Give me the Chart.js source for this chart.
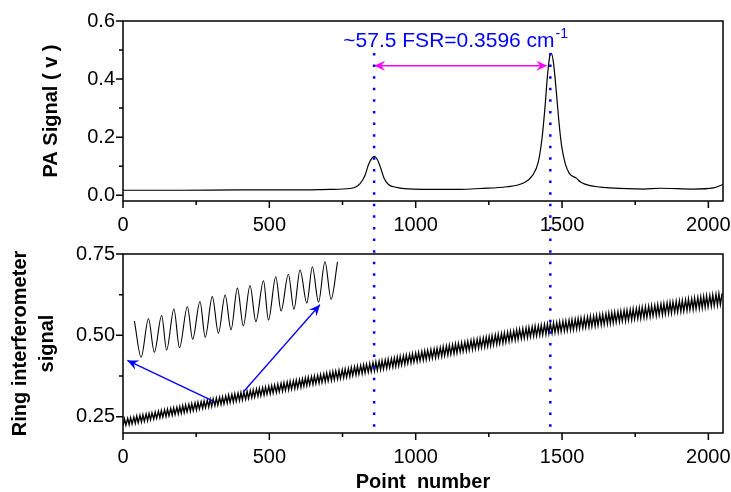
<!DOCTYPE html>
<html>
<head>
<meta charset="utf-8">
<script src="https://cdn.jsdelivr.net/npm/chart.js@4.4.1/dist/chart.umd.min.js"></script>
<style>
  html, body { margin: 0; padding: 0; background: #fff; }
  #wrap { position: relative; width: 731px; height: 492px; }
  #wrap canvas { position: absolute; left: 0; top: 0; }
</style>
</head>
<body>
<div id="wrap">
  <canvas id="paChart" width="731" height="492"></canvas>
  <canvas id="ringChart" width="731" height="492"></canvas>
</div>
<script>
// ---- PA signal (top panel) ----
const paX = [0, 200, 400, 600, 707, 776, 810, 827, 838, 850, 859, 869, 881, 892, 907, 935, 992, 1152,
  1220, 1311, 1368, 1400, 1419, 1431, 1442, 1451, 1459, 1464, 1471, 1480, 1490, 1499, 1511, 1525,
  1550, 1562, 1579, 1596, 1619, 1664, 1778, 1835, 1949, 2017, 2050];
const paY = [0.017, 0.017, 0.018, 0.018, 0.020, 0.023, 0.040, 0.069, 0.103, 0.127, 0.134, 0.123, 0.092, 0.058, 0.037, 0.027, 0.021, 0.020,
  0.023, 0.029, 0.042, 0.069, 0.115, 0.190, 0.305, 0.420, 0.483, 0.489, 0.454, 0.362, 0.247, 0.167, 0.109, 0.075,
  0.058, 0.046, 0.038, 0.033, 0.029, 0.025, 0.021, 0.024, 0.021, 0.025, 0.037];

// ---- ring interferometer trace (bottom panel): fringe valleys / peaks ----
const ringX = [
  0, 5, 10, 16, 21, 26, 31, 37, 42, 47, 52, 58, 63, 68, 73, 79, 84, 89, 94, 99,
  105, 110, 115, 121, 126, 131, 136, 142, 147, 152, 157, 163, 168, 173, 178, 184, 189, 194, 199, 204,
  209, 214, 219, 225, 230, 235, 240, 246, 251, 256, 261, 267, 272, 277, 282, 288, 293, 298, 303, 308,
  314, 319, 324, 330, 335, 340, 345, 351, 356, 361, 366, 372, 377, 382, 387, 393, 398, 403, 408, 413,
  419, 424, 429, 435, 440, 445, 450, 456, 461, 466, 471, 477, 482, 487, 492, 498, 503, 508, 513, 518,
  524, 529, 534, 540, 545, 550, 555, 561, 566, 571, 576, 582, 587, 592, 597, 603, 608, 613, 618, 623,
  628, 633, 638, 644, 649, 654, 659, 665, 670, 675, 680, 686, 691, 696, 701, 707, 712, 717, 722, 727,
  733, 738, 743, 749, 754, 759, 764, 770, 775, 780, 785, 791, 796, 801, 806, 812, 817, 822, 827, 832,
  838, 843, 848, 854, 859, 864, 869, 875, 880, 885, 890, 896, 901, 906, 911, 917, 922, 927, 932, 937,
  942, 947, 952, 958, 963, 968, 973, 979, 984, 989, 994, 1000, 1005, 1010, 1015, 1021, 1026, 1031, 1036, 1041,
  1047, 1052, 1057, 1063, 1068, 1073, 1078, 1084, 1089, 1094, 1099, 1105, 1110, 1115, 1120, 1126, 1131, 1136, 1141, 1146,
  1152, 1157, 1162, 1168, 1173, 1178, 1183, 1189, 1194, 1199, 1204, 1210, 1215, 1220, 1225, 1231, 1236, 1241, 1246, 1251,
  1256, 1261, 1266, 1272, 1277, 1282, 1287, 1293, 1298, 1303, 1308, 1314, 1319, 1324, 1329, 1335, 1340, 1345, 1350, 1355,
  1361, 1366, 1371, 1377, 1382, 1387, 1392, 1398, 1403, 1408, 1413, 1419, 1424, 1429, 1434, 1440, 1445, 1450, 1455, 1460,
  1466, 1471, 1476, 1482, 1487, 1492, 1497, 1503, 1508, 1513, 1518, 1524, 1529, 1534, 1539, 1545, 1550, 1555, 1560, 1565,
  1571, 1576, 1581, 1587, 1592, 1597, 1602, 1608, 1613, 1618, 1623, 1629, 1634, 1639, 1644, 1650, 1655, 1660, 1665, 1670,
  1675, 1680, 1685, 1691, 1696, 1701, 1706, 1712, 1717, 1722, 1727, 1733, 1738, 1743, 1748, 1754, 1759, 1764, 1769, 1774,
  1780, 1785, 1790, 1796, 1801, 1806, 1811, 1817, 1822, 1827, 1832, 1838, 1843, 1848, 1853, 1859, 1864, 1869, 1874, 1879,
  1885, 1890, 1895, 1901, 1906, 1911, 1916, 1922, 1927, 1932, 1937, 1943, 1948, 1953, 1958, 1964, 1969, 1974, 1979, 1984,
  1989, 1994, 1999, 2005, 2010, 2015, 2020, 2026, 2031, 2036, 2041, 2047];
const ringY = [
  .222, .243, .224, .245, .226, .247, .228, .249, .230, .252, .232, .254, .234, .256, .236, .258, .238, .260, .241, .262,
  .243, .264, .245, .267, .247, .269, .249, .271, .251, .273, .253, .275, .255, .277, .257, .279, .259, .281, .261, .284,
  .263, .286, .265, .288, .267, .290, .269, .292, .271, .294, .274, .296, .276, .298, .278, .301, .280, .303, .282, .305,
  .284, .307, .286, .309, .288, .311, .290, .313, .292, .316, .294, .318, .296, .320, .298, .322, .300, .324, .302, .326,
  .304, .328, .306, .330, .309, .332, .311, .335, .313, .337, .315, .339, .317, .341, .319, .343, .321, .345, .323, .347,
  .325, .349, .327, .352, .329, .354, .331, .356, .333, .358, .335, .360, .337, .362, .339, .364, .341, .366, .344, .369,
  .346, .371, .348, .373, .350, .375, .352, .377, .354, .379, .356, .381, .358, .384, .360, .386, .362, .388, .364, .390,
  .366, .392, .368, .394, .370, .396, .372, .398, .374, .401, .377, .403, .379, .405, .381, .407, .383, .409, .385, .411,
  .387, .413, .389, .416, .391, .418, .393, .420, .395, .422, .397, .424, .399, .426, .401, .428, .403, .430, .405, .433,
  .407, .435, .409, .437, .411, .439, .414, .441, .416, .443, .418, .445, .420, .447, .422, .450, .424, .452, .426, .454,
  .428, .456, .430, .458, .432, .460, .434, .462, .436, .465, .438, .467, .440, .469, .442, .471, .444, .473, .446, .475,
  .449, .477, .451, .479, .453, .481, .455, .484, .457, .486, .459, .488, .461, .490, .463, .492, .465, .494, .467, .496,
  .469, .499, .471, .501, .473, .503, .475, .505, .477, .507, .479, .509, .482, .511, .484, .513, .486, .516, .488, .518,
  .490, .520, .492, .522, .494, .524, .496, .526, .498, .528, .499, .529, .501, .531, .502, .533, .504, .534, .506, .536,
  .507, .538, .509, .539, .510, .541, .512, .543, .514, .544, .515, .546, .517, .548, .518, .549, .520, .551, .522, .553,
  .523, .554, .525, .556, .526, .558, .528, .559, .529, .561, .531, .563, .533, .564, .534, .566, .536, .568, .537, .569,
  .539, .571, .541, .572, .542, .574, .544, .576, .545, .577, .547, .579, .548, .581, .550, .582, .552, .584, .553, .586,
  .555, .587, .556, .589, .558, .591, .560, .592, .561, .594, .563, .596, .564, .597, .566, .599, .568, .601, .569, .602,
  .571, .604, .572, .606, .574, .607, .575, .609, .577, .611, .579, .612, .580, .614, .582, .616, .583, .617, .585, .619,
  .587, .621, .588, .622, .590, .624, .591, .626, .593, .627, .595, .629];

// ---- magnified inset, drawn in the bottom panel's coordinates ----
const insetX = [39, 62, 87, 107, 132, 149, 174, 193, 220, 238, 263, 281, 305, 326, 349, 369, 391,
  411, 434, 454, 480, 497, 522, 540, 565, 584, 605, 628, 647, 668, 690, 711, 733];
const insetY = [0.544, 0.433, 0.551, 0.448, 0.561, 0.455, 0.581, 0.462, 0.588, 0.488, 0.604, 0.494, 0.619, 0.507, 0.624, 0.517, 0.645,
  0.529, 0.653, 0.542, 0.668, 0.547, 0.680, 0.575, 0.688, 0.580, 0.701, 0.599, 0.711, 0.602, 0.726, 0.611, 0.726];

// ---- ticks ----
const xMajor = [0, 500, 1000, 1500, 2000];
const xMinor = [250, 750, 1250, 1750];
const paMajor = [0, 0.2, 0.4, 0.6];
const paMinor = [0.1, 0.3, 0.5];
const ringMajor = [0.25, 0.5, 0.75];
const ringMinor = [0.375, 0.625];

// ---- annotations (data coordinates) ----
const peakLines = [858, 1460];
const fsrLabel = '~57.5 FSR=0.3596 cm';
const fsrSup = '-1';

const FONT = "'Liberation Sans', Arial, Helvetica, sans-serif";
const BLUE = '#0000ff';

function pts(xs, ys) {
    return xs.map((x, i) => ({ x: x, y: ys[i] }));
}

function xScale(height, title) {
    return {
        type: 'linear', min: 0, max: 2050,
        afterBuildTicks: s => { s.ticks = xMajor.map(v => ({ value: v })); },
        afterFit: s => { s.height = height; s.paddingLeft = 0; s.paddingRight = 0; },
        grid: { display: false, drawTicks: true, tickLength: 7 },
        border: { display: false },
        ticks: { color: '#000', font: { family: FONT, size: 20 }, padding: 5, maxRotation: 0, autoSkip: false,
                 callback: v => String(v) },
        title: title ? {
            display: true, text: title, color: '#000',
            font: { family: FONT, size: 20, weight: 'bold', lineHeight: 1 },
            padding: { top: 0, bottom: 0 }
        } : { display: false }
    };
}

function yScale(min, max, major, digits) {
    return {
        type: 'linear', min: min, max: max,
        afterBuildTicks: s => { s.ticks = major.map(v => ({ value: v })); },
        afterFit: s => { s.width = 123; s.paddingTop = 0; s.paddingBottom = 0; },
        grid: { display: false, drawTicks: true, tickLength: 6 },
        border: { display: false },
        ticks: { color: '#000', font: { family: FONT, size: 20 }, padding: 2, autoSkip: false,
                 callback: v => Number(v).toFixed(digits) }
    };
}

function arrowHead(ctx, x0, y0, x1, y1, len, half) {
    const a = Math.atan2(y1 - y0, x1 - x0);
    const c = Math.cos(a), s = Math.sin(a);
    ctx.beginPath();
    ctx.moveTo(x1, y1);
    ctx.lineTo(x1 - len * c + half * s, y1 - len * s - half * c);
    ctx.lineTo(x1 - len * 0.65 * c, y1 - len * 0.65 * s);
    ctx.lineTo(x1 - len * c - half * s, y1 - len * s + half * c);
    ctx.closePath();
    ctx.fill();
}

// frame, major/minor ticks and the rotated y title
const framePlugin = {
    id: 'frame',
    afterDraw(chart, args, opts) {
        const { ctx, chartArea: a, scales: { x, y } } = chart;
        ctx.save();
        ctx.strokeStyle = '#000';
        ctx.lineWidth = 1.5;
        ctx.strokeRect(a.left, a.top, a.right - a.left, a.bottom - a.top);
        ctx.beginPath();
        xMajor.forEach(v => { const p = x.getPixelForValue(v); ctx.moveTo(p, a.bottom); ctx.lineTo(p, a.bottom + 7); });
        xMinor.forEach(v => { const p = x.getPixelForValue(v); ctx.moveTo(p, a.bottom); ctx.lineTo(p, a.bottom + 4); });
        opts.major.forEach(v => { const p = y.getPixelForValue(v); ctx.moveTo(a.left, p); ctx.lineTo(a.left - 7, p); });
        opts.minor.forEach(v => { const p = y.getPixelForValue(v); ctx.moveTo(a.left, p); ctx.lineTo(a.left - 4, p); });
        ctx.stroke();

        ctx.fillStyle = '#000';
        ctx.font = 'bold 20px ' + FONT;
        ctx.textAlign = 'center';
        ctx.textBaseline = 'middle';
        opts.title.forEach((line, i) => {
            ctx.save();
            ctx.translate(opts.titleX[i], (a.top + a.bottom) / 2);
            ctx.rotate(-Math.PI / 2);
            ctx.fillText(line, 0, 0);
            ctx.restore();
        });
        ctx.restore();
    }
};

// magenta FSR arrow and label on the PA panel
const fsrPlugin = {
    id: 'fsr',
    afterDraw(chart) {
        const { ctx, scales: { x, y } } = chart;
        const x0 = x.getPixelForValue(858), x1 = x.getPixelForValue(1450);
        const yy = y.getPixelForValue(0.446);
        ctx.save();
        ctx.strokeStyle = '#ff00ff';
        ctx.fillStyle = '#ff00ff';
        ctx.lineWidth = 1.5;
        ctx.beginPath();
        ctx.moveTo(x0 + 4, yy);
        ctx.lineTo(x1 - 4, yy);
        ctx.stroke();
        arrowHead(ctx, x1, yy, x0, yy, 11, 5);
        arrowHead(ctx, x0, yy, x1, yy, 11, 5);

        ctx.fillStyle = BLUE;
        ctx.textBaseline = 'alphabetic';
        ctx.textAlign = 'left';
        ctx.font = '21px ' + FONT;
        const w1 = ctx.measureText(fsrLabel).width;
        ctx.font = '14px ' + FONT;
        const w2 = ctx.measureText(fsrSup).width;
        const cx = x.getPixelForValue(1135);
        const by = y.getPixelForValue(0.51);
        const left = cx - (w1 + w2) / 2;
        ctx.font = '21px ' + FONT;
        ctx.fillText(fsrLabel, left, by);
        ctx.font = '14px ' + FONT;
        ctx.fillText(fsrSup, left + w1 + 1, by - 9);
        ctx.restore();
    }
};

const paChart = new Chart(document.getElementById('paChart').getContext('2d'), {
    type: 'line',
    data: {
        datasets: [{
            data: pts(paX, paY),
            borderColor: '#000', borderWidth: 1.2,
            pointRadius: 0, fill: false,
            cubicInterpolationMode: 'monotone'
        }]
    },
    options: {
        responsive: false, animation: false, events: [],
        layout: { padding: { left: 0, right: 8, top: 21, bottom: 251 } },
        scales: { x: xScale(40, null), y: yScale(-0.02, 0.6, paMajor, 1) },
        plugins: {
            legend: { display: false }, tooltip: { enabled: false },
            frame: { major: paMajor, minor: paMinor, title: ['PA Signal ( v )'], titleX: [51] }
        }
    },
    plugins: [framePlugin, fsrPlugin]
});

// blue zoom arrows + dotted peak markers running through both panels
const markPlugin = {
    id: 'marks',
    afterDraw(chart) {
        const { ctx, scales: { x, y } } = chart;
        ctx.save();
        ctx.strokeStyle = BLUE;
        ctx.fillStyle = BLUE;
        ctx.lineWidth = 1.3;
        [[308, 0.298, 15, 0.423], [411, 0.326, 673, 0.594]].forEach(([xa, ya, xb, yb]) => {
            const p0 = [x.getPixelForValue(xa), y.getPixelForValue(ya)];
            const p1 = [x.getPixelForValue(xb), y.getPixelForValue(yb)];
            ctx.beginPath();
            ctx.moveTo(p0[0], p0[1]);
            ctx.lineTo(p1[0], p1[1]);
            ctx.stroke();
            arrowHead(ctx, p0[0], p0[1], p1[0], p1[1], 11, 5);
        });

        const top = paChart.scales.y.getPixelForValue(0.49);
        const bottom = y.getPixelForValue(0.215);
        ctx.lineWidth = 2.5;
        ctx.setLineDash([2.5, 9.1]);
        peakLines.forEach(v => {
            const px = x.getPixelForValue(v);
            ctx.beginPath();
            ctx.moveTo(px, top);
            ctx.lineTo(px, bottom);
            ctx.stroke();
        });
        ctx.restore();
    }
};

new Chart(document.getElementById('ringChart').getContext('2d'), {
    type: 'line',
    data: {
        datasets: [{
            data: pts(ringX, ringY),
            borderColor: '#000', borderWidth: 1.4,
            pointRadius: 0, fill: false, tension: 0
        }, {
            data: pts(insetX, insetY),
            borderColor: '#000', borderWidth: 1.1,
            pointRadius: 0, fill: false,
            cubicInterpolationMode: 'monotone'
        }]
    },
    options: {
        responsive: false, animation: false, events: [],
        layout: { padding: { left: 0, right: 8, top: 254, bottom: 0 } },
        scales: { x: xScale(59, 'Point  number'), y: yScale(0.2, 0.75, ringMajor, 2) },
        plugins: {
            legend: { display: false }, tooltip: { enabled: false },
            frame: { major: ringMajor, minor: ringMinor, title: ['Ring interferometer', 'signal'], titleX: [20, 47] }
        }
    },
    plugins: [framePlugin, markPlugin]
});
</script>
</body>
</html>
